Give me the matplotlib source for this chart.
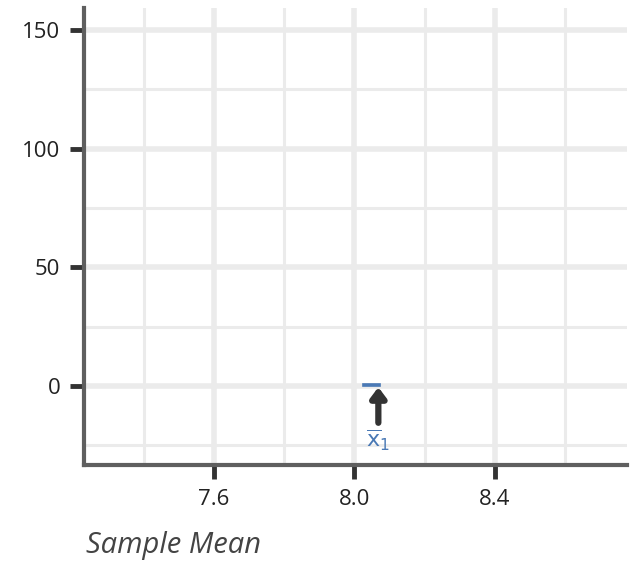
import matplotlib.pyplot as plt
import numpy as np

plt.rcParams['font.family'] = ['Open Sans', 'DejaVu Sans']

# histogram of sample means (only one sample drawn so far)
bin_edges   = [8.023, 8.074]
bin_counts  = [1]
sample_mean = 8.068

xMajor = [7.6, 8.0, 8.4]
xMinor = [7.4, 7.8, 8.2, 8.6]
yMajor = [0, 50, 100, 150]
yMinor = [-25, 25, 75, 125]

barColor   = "#4a79b5"
spineColor = "#5f5f5f"
tickColor  = "#333333"
gridColor  = "#ebebeb"

fig = plt.figure(figsize=(6.34, 5.61), dpi=100)
ax = fig.add_axes([0.1325, 0.171, 0.8565, 0.814])

ax.bar(bin_edges[0], bin_counts[0], width=bin_edges[1] - bin_edges[0], align='edge',
       color=barColor, edgecolor=barColor, linewidth=1.2, zorder=3)

# arrow pointing up at the sample mean, with its label below
ax.annotate("", xy=(sample_mean, -0.5), xytext=(sample_mean, -15.5),
            arrowprops=dict(arrowstyle="-|>,head_width=0.45,head_length=0.6",
                            color=tickColor, lw=4.5, shrinkA=0, shrinkB=0), zorder=4)
ax.text(sample_mean, -17.5, r'$\overline{\mathrm{x}}_1$', color=barColor,
        ha='center', va='top', fontsize=16)

ax.set_xlim(7.23, 8.776)
ax.set_ylim(-33.3, 159)

ax.set_xticks(xMajor)
ax.set_xticklabels([f"{v:.1f}" for v in xMajor])
ax.set_xticks(xMinor, minor=True)
ax.set_yticks(yMajor)
ax.set_yticks(yMinor, minor=True)

ax.grid(True, which='major', color=gridColor, linewidth=4.0, zorder=0)
ax.grid(True, which='minor', color=gridColor, linewidth=2.2, zorder=0)
ax.set_axisbelow(True)

for side in ['top', 'right']:
    ax.spines[side].set_visible(False)
for side in ['left', 'bottom']:
    ax.spines[side].set_color(spineColor)
    ax.spines[side].set_linewidth(3.0)

ax.tick_params(which='major', length=10, width=3.5, color=tickColor,
               labelsize=16, labelcolor="#222222", pad=7)
ax.tick_params(which='minor', length=0)

ax.set_xlabel("Sample Mean", fontsize=21, style='italic', color="#444444")
ax.xaxis.set_label_coords(0.003, -0.145, transform=ax.transAxes)
ax.xaxis.label.set_ha('left')

fig.savefig("out.png", dpi=100)
